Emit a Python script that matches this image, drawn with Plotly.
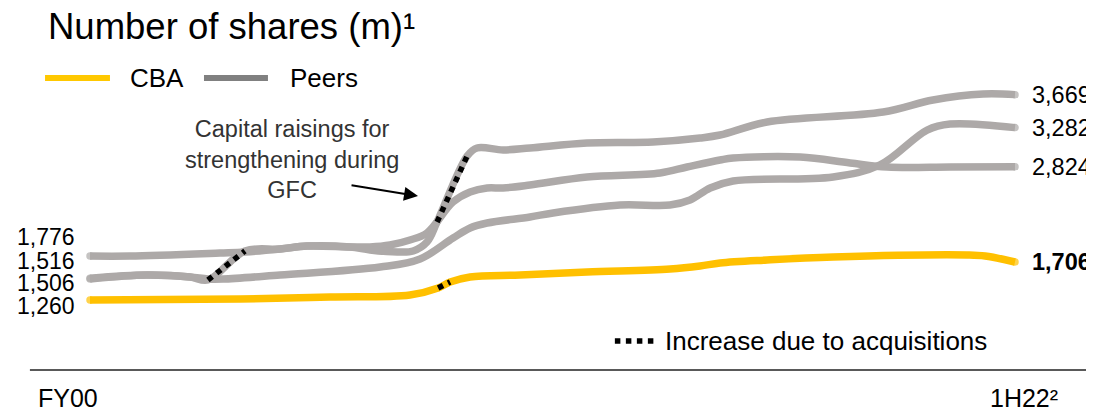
import plotly.graph_objects as go

# ---------------- data ----------------
# x = period position (0 = FY00 ... 44 = 1H22), y = number of shares (m)
cba_x = [0, 7.14, 11.42, 15.22, 16.56, 17.13, 18.08, 20.46, 23.64, 27.59, 29.02, 29.97, 32.21, 35.35, 41.72, 42.58, 44]
cba_y = [1260, 1272, 1295, 1319, 1401, 1471, 1530, 1553, 1588, 1624, 1659, 1694, 1729, 1764, 1788, 1776, 1706]

peer_a_x = [0, 1.90, 6.18, 7.37, 9.04, 10.32, 12.37, 13.32, 14.61, 15.37, 16.03, 16.51, 17.94, 18.41, 19.65,
            20.93, 23.64, 26.78, 29.02, 29.97, 32.21, 37.73, 40.10, 42.48, 44]
peer_a_y = [1776, 1776, 1811, 1823, 1858, 1893, 1882, 1847, 1823, 1835, 1940, 2175, 2949, 3043, 3020,
            3043, 3102, 3113, 3160, 3195, 3348, 3465, 3606, 3676, 3669]

peer_b_x = [0, 2.71, 4.76, 5.61, 7.37, 9.04, 10.32, 12.37, 13.32, 14.27, 15.22, 16.03, 17.27, 18.08, 18.89,
            19.65, 20.93, 23.64, 27.12, 28.40, 29.97, 30.59, 33.78, 36.16, 37.92, 40.91, 44]
peer_b_y = [1506, 1553, 1530, 1495, 1835, 1858, 1893, 1882, 1882, 1905, 1964, 2046, 2410, 2527, 2574,
            2574, 2609, 2703, 2750, 2820, 2902, 2926, 2937, 2867, 2820, 2820, 2824]

peer_c_x = [0, 2.71, 4.76, 5.61, 6.33, 9.04, 13.80, 15.70, 17.27, 18.08, 18.89, 20.93, 22.03, 25.21, 27.59,
            28.54, 29.50, 30.59, 35.35, 37.58, 39.82, 40.91, 44]
peer_c_y = [1516, 1553, 1530, 1506, 1506, 1553, 1647, 1741, 1987, 2105, 2163, 2234, 2281, 2374, 2374,
            2433, 2574, 2656, 2703, 2844, 3254, 3324, 3282]

# index ranges (start, end) of the segments that are drawn dotted
cba_dotted = (4, 5)        # acquisition
peer_a_dotted = (11, 12)   # capital raising during GFC
peer_b_dotted = (3, 4)     # acquisition

period_labels = ["FY00", "1H22²"]
title_text = "Number of shares (m)¹"
note_text = "Capital raisings for<br>strengthening during<br>GFC"
key_text = "Increase due to acquisitions"

# ---------------- style ----------------
YELLOW = "#FFC000"
GREY = "#ADA9A8"
FONT = "Arial, 'Liberation Sans', sans-serif"
LW = 7.5

fig = go.Figure()

def add_series(xs, ys, color):
    n = len(xs)
    sizes = [LW if i in (0, n - 1) else 0 for i in range(n)]  # round line ends
    fig.add_trace(go.Scatter(x=xs, y=ys, mode="lines+markers",
                             line=dict(color=color, width=LW, shape="spline", smoothing=1.0),
                             marker=dict(color=color, size=sizes, line=dict(width=0)),
                             cliponaxis=False, hoverinfo="skip", showlegend=False))

def add_dotted(xs, ys, rng):
    a, b = rng
    fig.add_trace(go.Scatter(x=xs[a:b + 1], y=ys[a:b + 1], mode="lines",
                             line=dict(color="black", width=5.5, dash="dot"),
                             hoverinfo="skip", showlegend=False))

add_series(peer_c_x, peer_c_y, GREY)
add_series(peer_b_x, peer_b_y, GREY)
add_series(peer_a_x, peer_a_y, GREY)
add_series(cba_x, cba_y, YELLOW)
add_dotted(peer_b_x, peer_b_y, peer_b_dotted)
add_dotted(peer_a_x, peer_a_y, peer_a_dotted)
add_dotted(cba_x, cba_y, cba_dotted)

ann = []
# start labels
starts = [(peer_a_y[0], 19), (peer_c_y[0], 17), (peer_b_y[0], -4), (cba_y[0], -6)]
for v, ys in starts:
    ann.append(dict(x=0, y=v, xref="x", yref="y", text=f"{v:,}", showarrow=False,
                    xanchor="right", yanchor="middle", xshift=-13, yshift=ys,
                    font=dict(size=23, color="black", family=FONT)))
# end labels
ends = [(peer_a_x, peer_a_y, False), (peer_c_x, peer_c_y, False), (peer_b_x, peer_b_y, False), (cba_x, cba_y, True)]
for xs, ysr, bold in ends:
    v = ysr[-1]
    t = f"{v:,}"
    ann.append(dict(x=xs[-1], y=v, xref="x", yref="y", text=f"<b>{t}</b>" if bold else t,
                    showarrow=False, xanchor="left", yanchor="middle", xshift=15,
                    font=dict(size=23.5, color="black", family=FONT)))

# title
ann.append(dict(x=-0.036, y=1.12, xref="paper", yref="paper", text=title_text, showarrow=False,
                xanchor="left", yanchor="middle", font=dict(size=36.5, color="black", family=FONT)))
# legend texts
ann.append(dict(x=0.0508, y=0.9357, xref="paper", yref="paper", text="CBA", showarrow=False,
                xanchor="left", yanchor="middle", font=dict(size=26, color="black", family=FONT)))
ann.append(dict(x=0.2201, y=0.9357, xref="paper", yref="paper", text="Peers", showarrow=False,
                xanchor="left", yanchor="middle", font=dict(size=26, color="black", family=FONT)))
# GFC note
ann.append(dict(x=0.2246, y=0.646, xref="paper", yref="paper", text=note_text, showarrow=False,
                xanchor="center", yanchor="middle", align="center",
                font=dict(size=23.5, color="#333333", family=FONT)))
# arrow
ann.append(dict(x=0.3577, y=0.514, xref="paper", yref="paper", text="", showarrow=True,
                ax=-68, ay=-11, arrowhead=2, arrowsize=1.4, arrowwidth=2, arrowcolor="black"))
# key
ann.append(dict(x=0.617, y=-0.004, xref="paper", yref="paper", text=key_text, showarrow=False,
                xanchor="left", yanchor="middle", font=dict(size=26, color="black", family=FONT)))
# period labels
ann.append(dict(x=-0.047, y=-0.207, xref="paper", yref="paper", text=period_labels[0], showarrow=False,
                xanchor="left", yanchor="middle", font=dict(size=25, color="black", family=FONT)))
ann.append(dict(x=1.037, y=-0.207, xref="paper", yref="paper", text=period_labels[1], showarrow=False,
                xanchor="right", yanchor="middle", font=dict(size=25, color="black", family=FONT)))

shapes = [
    dict(type="line", xref="paper", yref="paper", x0=-0.037, x1=0.0317, y0=0.9357, y1=0.9357,
         line=dict(color="#FFC800", width=6)),
    dict(type="line", xref="paper", yref="paper", x0=0.1312, x1=0.1989, y0=0.9357, y1=0.9357,
         line=dict(color="#808080", width=6)),
    dict(type="line", xref="paper", yref="paper", x0=0.566, x1=0.608, y0=-0.004, y1=-0.004,
         line=dict(color="black", width=5.5, dash="dot")),
    dict(type="line", xref="paper", yref="paper", x0=-0.053, x1=1.09, y0=-0.107, y1=-0.107,
         line=dict(color="#595959", width=2)),
]

# page body has an 8px margin, so everything is placed 8px up/left of the target pixels
fig.update_layout(
    width=1094, height=405,
    margin=dict(l=72, r=77, t=52, b=73),
    paper_bgcolor="white", plot_bgcolor="white",
    xaxis=dict(range=[-0.4757, 44.476], visible=False, fixedrange=True),
    yaxis=dict(range=[790.8, 4075.2], visible=False, fixedrange=True),
    annotations=ann, shapes=shapes, showlegend=False,
)

fig.write_html("out.html")
